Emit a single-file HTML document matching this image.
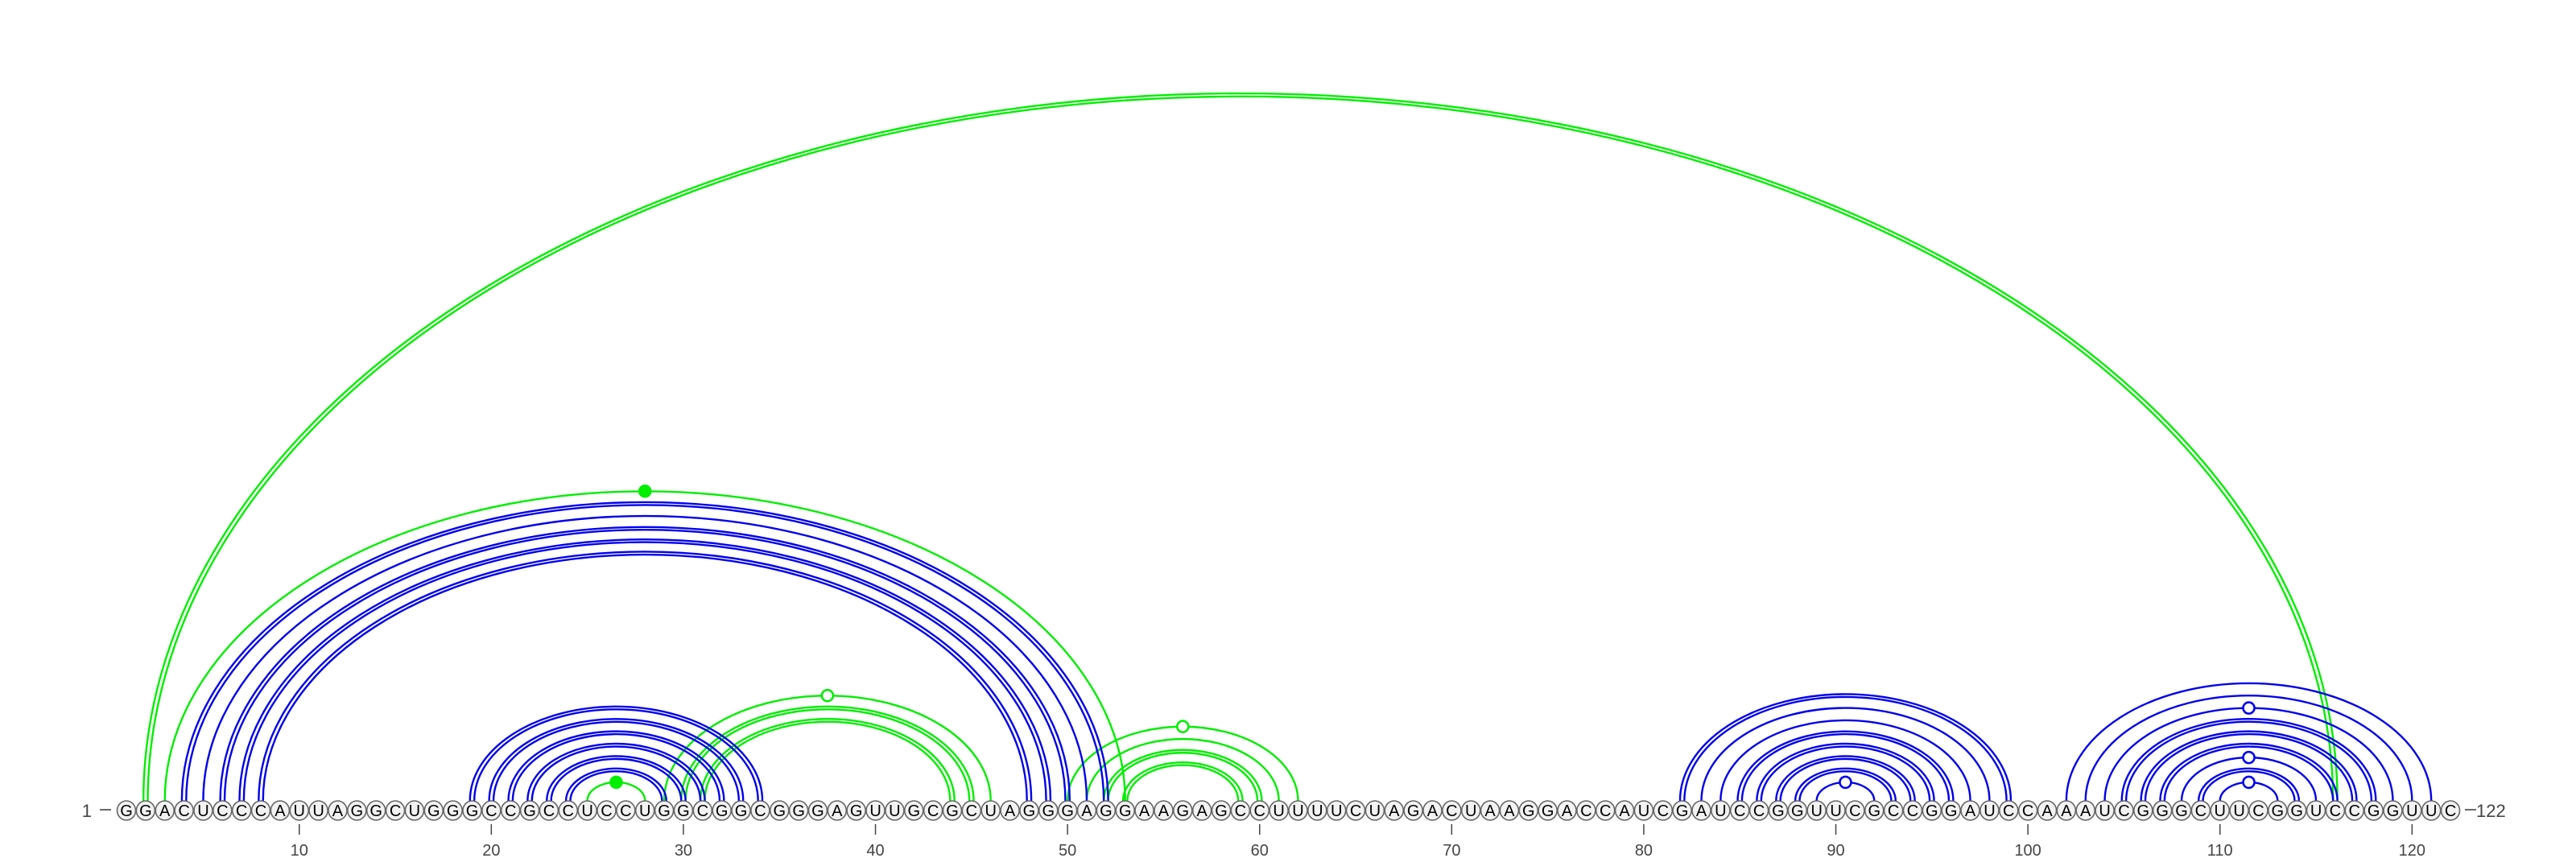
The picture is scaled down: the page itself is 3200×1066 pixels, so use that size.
<!DOCTYPE html>
<html><head><meta charset="utf-8"><style>
html,body{margin:0;padding:0;background:#fff;}
svg{display:block;font-family:"Liberation Sans",sans-serif;}
</style></head><body>
<svg id="chart" width="3200" height="1066" viewBox="0 0 3200 1066" xmlns="http://www.w3.org/2000/svg">
<g id="arcs"></g>
<g id="dots"></g>
<g id="nts"></g>
<g id="axis"></g>
</svg>
<script>
const sequence = "GGACUCCCAUUAGGCUGGGCCGCCUCCUGGCGGCGGGAGUUGCGCUAGGGAGGAAGAGCCUUUUCUAGACUAAGGACCAUCGAUCCGGUUCGCCGGAUCCAAAUCGGGCUUCGGUCCGGUUC";
const pairStart = [2,3,25,29,30,31,50,51,52,53, 4,5,6,7,8, 19,20,21,22,23,24, 82,83,84,85,86,87,88,89, 102,103,104,105,106,107,108,109,110];
const pairEnd   = [116,53,28,46,45,44,62,61,60,59, 52,51,50,49,48, 34,33,32,31,30,29, 99,98,97,96,95,94,93,92, 121,120,119,118,117,116,115,114,113];
const pairColor = ["g","g","g","g","g","g","g","g","g","g", "b","b","b","b","b", "b","b","b","b","b","b", "b","b","b","b","b","b","b","b", "b","b","b","b","b","b","b","b","b"];
const pairDouble = [1,0,0,0,1,1,0,0,1,1, 1,0,1,1,1, 1,1,1,1,1,1, 1,0,0,1,1,1,1,0, 0,0,0,1,1,1,0,1,0];
const pairMarker = ["","filled","filled","open","","","open","","","", "","","","","", "","","","","","", "","","","","","","","open", "","","open","","","","open","","open"];
const tickValues = [10,20,30,40,50,60,70,80,90,100,110,120];

const NS="http://www.w3.org/2000/svg";
const X0=157, DX=23.86, BASE=1007, ARCY=995, RATIO=0.645;
const xPos = i => X0+(i-1)*DX;
const colors={g:"#00ee00",b:"#0000ee"};
const arcs=document.getElementById('arcs'), dots=document.getElementById('dots'), nts=document.getElementById('nts'), axis=document.getElementById('axis');
function mk(tag,attrs,parent){const e=document.createElementNS(NS,tag);for(const k in attrs)e.setAttribute(k,attrs[k]);parent.appendChild(e);return e;}
function arcPath(x1,x2){const rx=(x2-x1)/2, ry=rx*RATIO;return `M${x1} ${ARCY} A${rx} ${ry} 0 0 1 ${x2} ${ARCY}`;}
for(let k=0;k<pairStart.length;k++){
  const x1=xPos(pairStart[k]), x2=xPos(pairEnd[k]), c=colors[pairColor[k]];
  const offs = pairDouble[k]?[-2.7,2.7]:[0];
  offs.forEach(o=>{
    const p=mk('path',{d:arcPath(x1+o,x2-o),fill:'none',stroke:c,'stroke-width':2.4},arcs);
    
    
  });
  if(pairMarker[k]){
    const cx=(x1+x2)/2, cy=ARCY-(x2-x1)/2*RATIO;
    const d=mk('circle',{cx:cx,cy:cy,r:7,fill:pairMarker[k]==='filled'?c:'#fff',stroke:c,'stroke-width':2.6},dots);
    
    
  }
}
for(let i=1;i<=sequence.length;i++){
  const g=mk('g',{},nts);
  
  
  mk('ellipse',{cx:xPos(i),cy:BASE,rx:11.5,ry:12,fill:'#f2f2f2',stroke:'#666','stroke-width':1.6},g);
  const t=mk('text',{x:xPos(i),y:BASE+7,'text-anchor':'middle','font-size':20,fill:'#000'},g);
  t.textContent=sequence[i-1];
}
tickValues.forEach(v=>{
  const l=mk('line',{x1:xPos(v),x2:xPos(v),y1:1024,y2:1037,stroke:'#444','stroke-width':1.5},axis);
  
  
  const t=mk('text',{x:xPos(v),y:1063,'text-anchor':'middle','font-size':20,fill:'#444'},axis);
  
  
  t.textContent=v;
});
const s=mk('text',{x:114,y:1015,'text-anchor':'end','font-size':22,fill:'#444'},axis);


s.textContent='1';
mk('line',{x1:124,x2:138,y1:1006,y2:1006,stroke:'#444','stroke-width':1.6},axis);
mk('line',{x1:3062,x2:3076,y1:1006,y2:1006,stroke:'#444','stroke-width':1.6},axis);
const e=mk('text',{x:3076,y:1015,'font-size':22,fill:'#444'},axis);


e.textContent='122';
</script>
</body></html>
